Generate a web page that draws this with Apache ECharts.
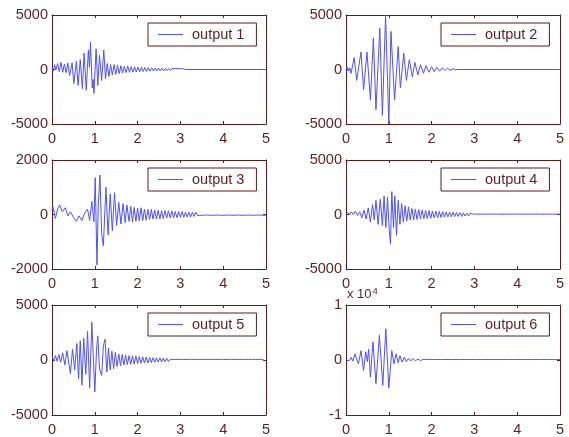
<!DOCTYPE html>
<html>
<head>
<meta charset="utf-8">
<script src="https://cdn.jsdelivr.net/npm/echarts@6/dist/echarts.min.js"></script>
<style>
html,body{margin:0;padding:0;background:#fff;}
#chart{width:569px;height:437px;}
</style>
</head>
<body>
<div id="chart"></div>
<script>
// ---------------- DATA ----------------
const seriesNames = ['output 1', 'output 2', 'output 3', 'output 4', 'output 5', 'output 6'];
const xTicks = [0, 1, 2, 3, 4, 5];
const yLimits = [5000, 5000, 2000, 5000, 5000, 10000];
const yTickLabels = [
  ['-5000', '0', '5000'], ['-5000', '0', '5000'], ['-2000', '0', '2000'],
  ['-5000', '0', '5000'], ['-5000', '0', '5000'], ['-1', '0', '1']
];
const yExponentLabel = 'x 10{sup|4}';
const tailStep = 0.04;

// output 1
const out1T = [0, 0.03, 0.06, 0.09, 0.13, 0.17, 0.21, 0.25, 0.29, 0.33, 0.37, 0.41, 0.47, 0.51, 0.57, 0.61, 0.66, 0.71, 0.75, 0.80, 0.85, 0.875, 0.90, 0.94, 0.96, 0.98, 1.03, 1.07, 1.11, 1.16, 1.21, 1.25, 1.29, 1.33, 1.37, 1.41, 1.45, 1.49, 1.53, 1.57, 1.61, 1.65];
const out1V = [250, -150, 450, -50, 550, -200, 650, -250, 500, -300, 600, -550, 600, -1300, 750, -1450, 900, -1750, 1500, -1900, 1800, 200, 2500, -1700, -900, -2200, 1900, -1450, 1300, -1000, 1800, -850, 550, -650, 450, -500, 450, -450, 400, -380, 350, -330];
const out1TailStart = 1.69;
const out1Tail = [300, -290, 330, -260, 270, -250, 240, -230, 220, -210, 200, -190, 180, -170, 170, -160, 150, -140, 140, -130, 130, -120, 120, -110, 110, -100, 100, -100, 90, -90, 90, -80, 80, -70, 70, -60];
const out1EndT = [3.13, 5];
const out1EndV = [0, 0];

// output 2
const out2T = [0, 0.03, 0.06, 0.09, 0.12, 0.19, 0.25, 0.35, 0.41, 0.49, 0.57, 0.64, 0.70, 0.79, 0.85, 0.925, 1.00, 1.05, 1.135, 1.22, 1.27, 1.35, 1.41, 1.48, 1.55, 1.61, 1.68, 1.74, 1.81, 1.87, 1.94, 2.00, 2.06, 2.12, 2.19, 2.25, 2.31, 2.37, 2.43, 2.50, 2.55, 2.60, 5];
const out2V = [0, 250, -150, 150, -350, 1100, -1000, 1600, -1850, 1600, -2800, 2900, -3700, 3800, -4200, 5000, -5000, 3500, -2800, 2100, -1700, 1500, -1000, 900, -700, 650, -500, 450, -350, 350, -250, 250, -200, 200, -150, 150, -100, 130, -80, 80, -30, 0, 0];
const out2TailStart = 5;
const out2Tail = [];
const out2EndT = [];
const out2EndV = [];

// output 3
const out3T = [0, 0.02, 0.08, 0.13, 0.18, 0.24, 0.31, 0.37, 0.43, 0.50, 0.57, 0.63, 0.70, 0.76, 0.83, 0.88, 0.93, 0.98, 1.01, 1.05, 1.08, 1.12, 1.16, 1.20, 1.26, 1.31, 1.36, 1.41, 1.46, 1.51, 1.56, 1.61, 1.66, 1.71, 1.75, 1.80, 1.84];
const out3V = [150, 300, -150, 200, 350, 100, 250, -50, 100, -100, -250, -50, -220, 50, 200, -220, 480, -270, 1350, -1850, 300, 1450, -700, -1150, 1000, -750, 750, -600, 800, -400, 450, -350, 400, -300, 350, -250, 300];
const out3TailStart = 1.88;
const out3Tail = [-280, 260, -250, 240, -230, 250, -220, 200, -210, 190,
  -180, 190, -170, 160, -170, 150, -160, 140, -150, 140,
  -130, 140, -120, 130, -120, 110, -120, 110, -100, 110,
  -100, 90, -100, 80, -90, 80, -70, 80,
  -30, 25,
  -30, 20, -25, 30, -20, 25, -30, 20, -25, 30,
  -20, 25, -30, 20, -25, 30, -20, 25, -30, 20,
  -25, 30, -20, 25, -30, 20, -25, 30, -20, 25,
  -30, 20, -25, 30, -20, 25, -30, 20, -25];
const out3EndT = [];
const out3EndV = [];

// output 4
const out4T = [0, 0.04, 0.08, 0.12, 0.17, 0.22, 0.27, 0.32, 0.37, 0.42, 0.47, 0.52, 0.57, 0.62, 0.66, 0.70, 0.75, 0.80, 0.85, 0.89, 0.93, 0.97, 1.01, 1.04, 1.07, 1.11, 1.14, 1.18, 1.22, 1.26, 1.30, 1.34, 1.38, 1.42, 1.46, 1.50];
const out4V = [0, 200, -50, 250, 0, 300, -100, 250, -300, 400, -400, 600, -700, 900, -500, 1300, -900, 1400, -1000, 1700, -1200, 1600, -1400, -2700, 2100, -1200, 1700, -1900, 1300, -900, 1000, -700, 800, -600, 700, -500];
const out4TailStart = 1.54;
const out4Tail = [550, -500, 480, -450, 460, -420, 400, -390, 380, -370,
  350, -340, 320, -310, 300, -290, 280, -270, 260, -250,
  230, -220, 220, -210, 200, -190, 190, -180, 170, -170,
  150, -140, 130, -130, 120,
  -40, 35, -30, 40, -35, 30, -40, 35, -30, 40, -35, 30,
  -40, 35, -30, 40, -35, 30, -40, 35, -30, 40, -35, 30,
  -40, 35, -30, 40, -35, 30, -40, 35, -30, 40, -35, 30,
  -40, 35, -30, 40, -35, 30, -40, 35, -30, 40, -35, 30,
  -40, 35, -30, 40];
const out4EndT = [];
const out4EndV = [];

// output 5
const out5T = [0, 0.04, 0.08, 0.12, 0.16, 0.20, 0.25, 0.30, 0.35, 0.43, 0.48, 0.53, 0.58, 0.62, 0.66, 0.70, 0.74, 0.79, 0.83, 0.88, 0.93, 1.00, 1.04, 1.07, 1.11, 1.16, 1.20, 1.24, 1.28, 1.32, 1.36, 1.40, 1.44, 1.48, 1.52];
const out5V = [300, -50, 400, -100, 500, -200, 650, -450, 850, -1250, 1000, -900, 1500, -1700, 1750, -2300, 2000, -1300, 2600, -2550, 3450, -2900, 900, 2200, -800, -1400, 1300, 1900, -1100, 1100, -900, 800, -800, 700, -600];
const out5TailStart = 1.56;
const out5Tail = [550, -520, 500, -460, 450, -420, 400, -390, 380, -370,
  350, -330, 320, -300, 290, -280, 270, -260, 250, -240,
  220, -210, 200, -190, 190, -180, 170, -160, 160, -150,
  60, -55, 50, -60, 55, -50, 60, -55, 50, -60, 55, -50,
  60, -55, 50, -60, 55, -50, 60, -55, 50, -60, 55, -50,
  60, -55, 50, -60, 55, -50, 60, -55, 50, -60, 55, -50,
  60, -55, 50, -60, 55, -50, 60, -55, 50, -60, 55, -50,
  60, -55, 50, -60, 55, -50, 60, -55];
const out5EndT = [];
const out5EndV = [];

// output 6
const out6T = [0, 0.04, 0.08, 0.12, 0.16, 0.21, 0.29, 0.35, 0.41, 0.46, 0.50, 0.53, 0.57, 0.63, 0.70, 0.78, 0.86, 0.93, 1.00, 1.07, 1.12, 1.17, 1.22, 1.26, 1.31, 1.36, 1.41, 1.46, 1.51, 1.56, 1.62, 1.68, 1.74, 1.80];
const out6V = [0, 300, -100, 500, -200, 1100, -700, 1700, -1900, 1500, -300, 2000, -3100, 3300, -4300, 4500, -4600, 5700, -5100, 1700, -700, 1100, -500, 800, -400, 500, -300, 300, -200, 250, -150, 150, -100, 100];
const out6TailStart = 1.84;
const out6Tail = [-110, 100, -90, 110, -100, 90, -110, 100, -90, 110,
  -100, 90, -80, 100, -90, 80, -100, 90, -80, 100, -90, 80,
  -100, 90, -80, 100, -90, 80, -100, 90, -80, 100, -90, 80,
  -100, 90, -80, 100, -90, 80, -100, 90, -80, 100, -90, 80,
  -100, 90, -80, 100, -90, 80, -100, 90, -80, 100, -90, 80,
  -100, 90, -80, 100, -90, 80, -100, 90, -80, 100, -90, 80,
  -100, 90, -80, 100, -90, 80, -100, 90, -80, 100];
const out6EndT = [];
const out6EndV = [];

// ---------------- BUILD ----------------
function buildPoints(t, v, tailStart, tail, endT, endV) {
  const pts = [];
  for (let i = 0; i < t.length; i++) pts.push([t[i], v[i]]);
  for (let i = 0; i < tail.length; i++) pts.push([+(tailStart + i * tailStep).toFixed(3), tail[i]]);
  for (let i = 0; i < endT.length; i++) pts.push([endT[i], endV[i]]);
  return pts;
}
const allData = [
  buildPoints(out1T, out1V, out1TailStart, out1Tail, out1EndT, out1EndV),
  buildPoints(out2T, out2V, out2TailStart, out2Tail, out2EndT, out2EndV),
  buildPoints(out3T, out3V, out3TailStart, out3Tail, out3EndT, out3EndV),
  buildPoints(out4T, out4V, out4TailStart, out4Tail, out4EndT, out4EndV),
  buildPoints(out5T, out5V, out5TailStart, out5Tail, out5EndT, out5EndV),
  buildPoints(out6T, out6V, out6TailStart, out6Tail, out6EndT, out6EndV)
];

// ---------------- LAYOUT / STYLE ----------------
const FONT = "'Liberation Sans', Arial, sans-serif";
const AXIS_COLOR = '#5e1b1b';
const TEXT_COLOR = '#5a1f1f';
const LINE_COLOR = '#5050ff';
const FS = 14.5;
const gridBoxes = [
  { left: 52, top: 15, width: 214, height: 109 },
  { left: 346, top: 15, width: 214, height: 109 },
  { left: 52, top: 160, width: 214, height: 109 },
  { left: 346, top: 160, width: 214, height: 109 },
  { left: 52, top: 305, width: 214, height: 110 },
  { left: 346, top: 305, width: 214, height: 110 }
];
const legendPos = [
  { left: 148, top: 23 }, { left: 441, top: 23 },
  { left: 148, top: 168 }, { left: 441, top: 168 },
  { left: 148, top: 313 }, { left: 441, top: 313 }
];

const grid = [], xAxis = [], yAxis = [], series = [], legend = [];
const axisLine = { show: true, onZero: false, lineStyle: { color: AXIS_COLOR, width: 1 } };
const axisTick = { show: true, inside: true, length: 3, lineStyle: { color: AXIS_COLOR, width: 1 } };

for (let i = 0; i < 6; i++) {
  grid.push(Object.assign({ containLabel: false }, gridBoxes[i]));
  const lim = yLimits[i];
  const labels = yTickLabels[i];
  xAxis.push({
    gridIndex: i, type: 'value', min: xTicks[0], max: xTicks[xTicks.length - 1], interval: 1,
    position: 'bottom', axisLine, axisTick, splitLine: { show: false },
    axisLabel: { color: TEXT_COLOR, fontSize: FS, fontFamily: FONT, margin: 7,
      formatter: v => String(v) }
  });
  xAxis.push({
    gridIndex: i, type: 'value', min: xTicks[0], max: xTicks[xTicks.length - 1], interval: 1,
    position: 'top', axisLine, axisTick, splitLine: { show: false }, axisLabel: { show: false }
  });
  const yl = {
    gridIndex: i, type: 'value', min: -lim, max: lim, interval: lim,
    position: 'left', axisLine, axisTick, splitLine: { show: false },
    axisLabel: { color: TEXT_COLOR, fontSize: FS, fontFamily: FONT, margin: 4,
      formatter: v => (v < 0 ? labels[0] : (v > 0 ? labels[2] : labels[1])) }
  };
  if (i === 5) {
    yl.name = yExponentLabel;
    yl.nameLocation = 'end';
    yl.nameGap = 3;
    yl.nameTextStyle = {
      color: TEXT_COLOR, fontSize: 13, fontFamily: FONT, align: 'left', verticalAlign: 'bottom',
      padding: [0, 0, 0, 1],
      rich: { sup: { fontSize: 9.5, fontFamily: FONT, color: TEXT_COLOR, verticalAlign: 'top', padding: [0, 0, 6, 1] } }
    };
  }
  yAxis.push(yl);
  yAxis.push({
    gridIndex: i, type: 'value', min: -lim, max: lim, interval: lim,
    position: 'right', axisLine, axisTick, splitLine: { show: false }, axisLabel: { show: false }
  });
  series.push({
    name: seriesNames[i], type: 'line', xAxisIndex: 2 * i, yAxisIndex: 2 * i,
    data: allData[i], symbol: 'none', showSymbol: false, sampling: null,
    lineStyle: { color: LINE_COLOR, width: 1 }, itemStyle: { color: LINE_COLOR },
    animation: false, silent: true
  });
  legend.push({
    data: [{ name: seriesNames[i], icon: 'rect' }], left: legendPos[i].left, top: legendPos[i].top,
    orient: 'horizontal', selectedMode: false,
    itemWidth: 25, itemHeight: 1,
    itemStyle: { color: LINE_COLOR, borderWidth: 0 },
    borderColor: AXIS_COLOR, borderWidth: 1, borderRadius: 0,
    padding: [4, 12, 4, 10], backgroundColor: '#fff',
    textStyle: { color: TEXT_COLOR, fontSize: FS, fontFamily: FONT, padding: [0, 0, 0, 4] }
  });
}

const chart = echarts.init(document.getElementById('chart'), null, { renderer: 'canvas' });
chart.setOption({ animation: false, backgroundColor: '#fff', grid, xAxis, yAxis, series, legend });
</script>
</body>
</html>
